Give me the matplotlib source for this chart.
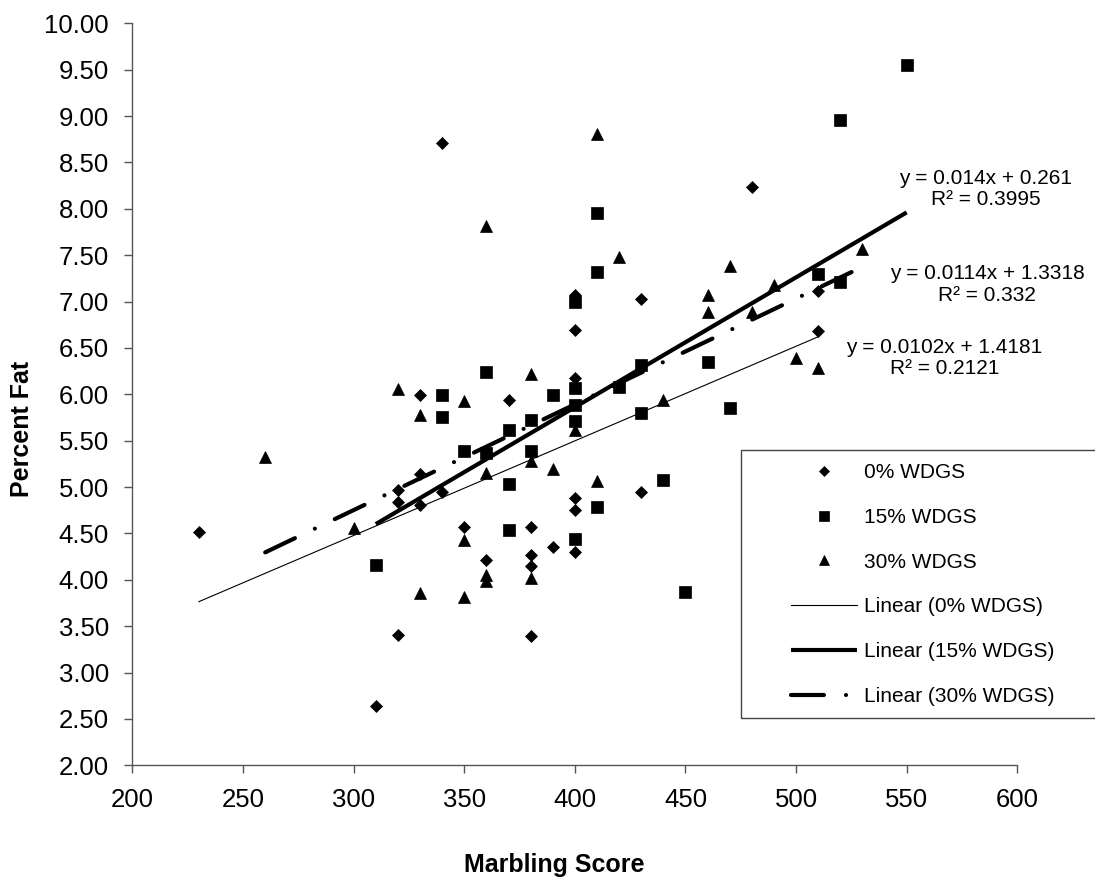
import matplotlib
matplotlib.use("Agg")
import matplotlib.pyplot as plt
import numpy as np
from matplotlib.patches import Rectangle

plt.rcParams['font.family'] = ['Liberation Sans', 'DejaVu Sans']

# data
x_0 = [230, 310, 320, 320, 320, 330, 330, 330, 340, 340, 350, 360, 370, 380, 380,
       380, 380, 390, 400, 400, 400, 400, 400, 400, 430, 430, 480, 510, 510]
y_0 = [4.52, 2.64, 3.41, 4.84, 4.97, 4.81, 5.14, 5.99, 4.95, 8.71, 4.57, 4.21, 5.94, 4.57, 4.27,
       4.15, 3.39, 4.35, 4.88, 4.75, 4.30, 6.18, 6.69, 7.07, 7.03, 4.95, 8.24, 7.11, 6.68]

x_15 = [310, 340, 340, 350, 360, 360, 370, 370, 370, 380, 380, 390, 400, 400, 400, 400,
        400, 410, 410, 410, 420, 430, 430, 440, 450, 460, 470, 510, 520, 520, 550]
y_15 = [4.16, 5.99, 5.75, 5.39, 6.24, 5.37, 5.61, 5.03, 4.54, 5.72, 5.39, 5.99, 7.00, 6.07, 5.88, 5.71,
        4.44, 7.95, 7.32, 4.79, 6.08, 6.32, 5.80, 5.08, 3.87, 6.35, 5.85, 7.30, 7.21, 8.96, 9.55]

x_30 = [260, 300, 320, 330, 330, 350, 350, 350, 360, 360, 360, 360, 380, 380, 380, 390,
        400, 410, 410, 420, 440, 460, 460, 470, 480, 490, 500, 510, 530]
y_30 = [5.32, 4.56, 6.06, 5.78, 3.86, 5.93, 4.43, 3.82, 7.81, 5.15, 4.05, 3.99, 6.22, 5.28, 4.02, 5.20,
        5.62, 8.81, 5.07, 7.48, 5.94, 7.07, 6.89, 7.38, 6.89, 7.18, 6.39, 6.28, 7.57]

# trendline equations as printed on the chart
slopes = [0.0102, 0.014, 0.0114]
intercepts = [1.4181, 0.261, 1.3318]
r2_text = ['0.2121', '0.3995', '0.332']
eq_text = ['y = 0.0102x + 1.4181', 'y = 0.014x + 0.261', 'y = 0.0114x + 1.3318']
eq_pos = [(567, 6.39), (585.6, 8.215), (586.3, 7.185)]

names = ['0% WDGS', '15% WDGS', '30% WDGS']

fig = plt.figure(figsize=(10.95, 8.82), dpi=100, facecolor='white')
ax = fig.add_axes([0.1210, 0.1323, 0.8080, 0.8413])

xs = [x_0, x_15, x_30]
ys = [y_0, y_15, y_30]
markers = ['D', 's', '^']
msizes = [6.2, 8.6, 9.0]

pts = []
for x, y, m, ms, nm in zip(xs, ys, markers, msizes, names):
    h, = ax.plot(x, y, linestyle='none', marker=m, markersize=ms, color='black',
                 markeredgewidth=0.5, label=nm, zorder=3)
    pts.append(h)

line_kw = [dict(lw=0.8, ls='-'),
           dict(lw=3.0, ls='-', solid_capstyle='butt'),
           dict(lw=3.0, ls=(0, (7.9, 5.3, 0.01, 5.3)), dash_capstyle='round')]
lines = []
for x, a, b, kw, nm in zip(xs, slopes, intercepts, line_kw, names):
    xx = np.array([min(x), max(x)])
    h, = ax.plot(xx, a * xx + b, color='black', label='Linear (%s)' % nm, zorder=4, **kw)
    lines.append(h)

for t, r, (px, py) in zip(eq_text, r2_text, eq_pos):
    ax.text(px, py, t + '\nR\u00b2 = ' + r, ha='center', va='center',
            multialignment='center', fontsize=15, linespacing=1.17)

ax.set_xlim(200, 600)
ax.set_ylim(2, 10)
ax.set_xticks(np.arange(200, 601, 50))
ax.set_yticks(np.arange(2, 10.01, 0.5))
ax.set_yticklabels(['%.2f' % v for v in np.arange(2, 10.01, 0.5)])
for s in ['top', 'right']:
    ax.spines[s].set_visible(False)
for s in ['left', 'bottom']:
    ax.spines[s].set_color('#555555')
    ax.spines[s].set_linewidth(1.0)
ax.tick_params(axis='both', direction='out', length=6, width=1, color='#555555',
               labelsize=18.5)
ax.tick_params(axis='y', pad=11)
ax.tick_params(axis='x', pad=10)

fig.text(554 / 1095, 1 - 865 / 882, 'Marbling Score', ha='center', va='center',
         fontsize=18, fontweight='bold')
fig.text(22.5 / 1095, 1 - 429 / 882, 'Percent Fat', ha='center', va='center',
         rotation=90, fontsize=18, fontweight='bold')

# legend frame runs off the right edge, as in the original
fig.patches.append(Rectangle((741 / 1095, 1 - 718.3 / 882), 0.4, (718.3 - 450) / 882,
                             transform=fig.transFigure, fill=False,
                             edgecolor='#444444', lw=1.0))
fig.legend(handles=pts + lines, loc='upper left', bbox_to_anchor=(790.5 / 1095, 1 - 463 / 882),
           frameon=False, fontsize=15, handlelength=3.19, handletextpad=0.36,
           labelspacing=1.24, borderpad=0, borderaxespad=0, markerscale=0.85)

fig.savefig('out.png', dpi=100, facecolor='white')
